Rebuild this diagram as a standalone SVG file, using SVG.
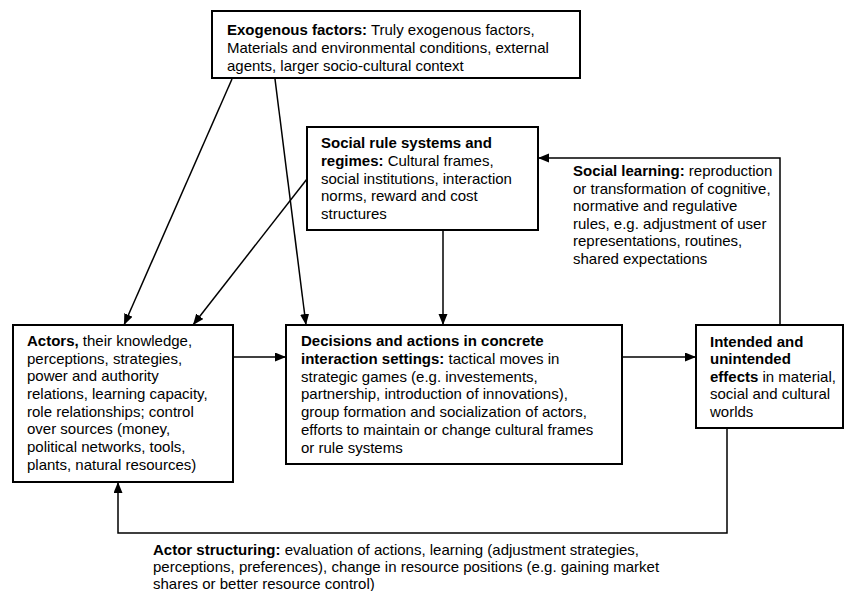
<svg xmlns="http://www.w3.org/2000/svg" width="844" height="591" viewBox="0 0 844 591">
  <style>
    .box { fill: #fff; stroke: #000; stroke-width: 2; }
    .txt { font-family: "Liberation Sans", Arial, sans-serif; font-size: 15px; fill: #000; }
    .b { font-weight: bold; }
    .edge { fill: none; stroke: #000; stroke-width: 1.5; marker-end: url(#arrow); }
  </style>
  <defs>
    <marker id="arrow" markerUnits="userSpaceOnUse" markerWidth="12" markerHeight="10" refX="11" refY="4.5" orient="auto">
      <path d="M0,0 L11,4.5 L0,9 z" fill="#000"/>
    </marker>
  </defs>

  <rect width="844" height="591" fill="#fff"/>

  <!-- connectors -->
  <g id="connectors">
    <path class="edge" d="M232,79 L124,325"/>
    <path class="edge" d="M275,79 L306,325"/>
    <path class="edge" d="M307,179 L193,325"/>
    <path class="edge" d="M443,230 V325"/>
    <path class="edge" d="M233,357 H286"/>
    <path class="edge" d="M622,357 H696"/>
    <path class="edge" d="M780,325 V158 H538"/>
    <path class="edge" d="M727,428 V533 H118 V482"/>
  </g>

  <g id="exogenous">
    <rect class="box" x="212" y="11" width="368" height="67"/>
    <text class="txt" x="227" y="35">
      <tspan class="b">Exogenous factors:</tspan> Truly exogenous factors,
      <tspan x="227" y="53">Materials and environmental conditions, external</tspan>
      <tspan x="227" y="70.5">agents, larger socio-cultural context</tspan>
    </text>
  </g>

  <g id="rules">
    <rect class="box" x="307" y="127" width="231" height="103"/>
    <text class="txt" x="321" y="148">
      <tspan class="b">Social rule systems and</tspan>
      <tspan x="321" y="166"><tspan class="b">regimes:</tspan> Cultural frames,</tspan>
      <tspan x="321" y="183.5">social institutions, interaction</tspan>
      <tspan x="321" y="201">norms, reward and cost</tspan>
      <tspan x="321" y="218.5">structures</tspan>
    </text>
  </g>

  <g id="social-learning">
    <text class="txt" x="573" y="176">
      <tspan class="b">Social learning:</tspan> reproduction
      <tspan x="573" y="193.5">or transformation of cognitive,</tspan>
      <tspan x="573" y="211">normative and regulative</tspan>
      <tspan x="573" y="228.5">rules, e.g. adjustment of user</tspan>
      <tspan x="573" y="246">representations, routines,</tspan>
      <tspan x="573" y="263.5">shared expectations</tspan>
    </text>
  </g>

  <g id="actors">
    <rect class="box" x="13" y="325" width="220" height="157"/>
    <text class="txt" x="27" y="346">
      <tspan class="b">Actors,</tspan> their knowledge,
      <tspan x="27" y="363.5">perceptions, strategies,</tspan>
      <tspan x="27" y="381.2">power and authority</tspan>
      <tspan x="27" y="398.9">relations, learning capacity,</tspan>
      <tspan x="27" y="416.6">role relationships; control</tspan>
      <tspan x="27" y="434.3">over sources (money,</tspan>
      <tspan x="27" y="452">political networks, tools,</tspan>
      <tspan x="27" y="469.7">plants, natural resources)</tspan>
    </text>
  </g>

  <g id="decisions">
    <rect class="box" x="286" y="325" width="336" height="139"/>
    <text class="txt" x="301" y="346">
      <tspan class="b">Decisions and actions in concrete</tspan>
      <tspan x="301" y="363.8"><tspan class="b">interaction settings:</tspan> tactical moves in</tspan>
      <tspan x="301" y="381.6">strategic games (e.g. investements,</tspan>
      <tspan x="301" y="399.4">partnership, introduction of innovations),</tspan>
      <tspan x="301" y="417.2">group formation and socialization of actors,</tspan>
      <tspan x="301" y="435">efforts to maintain or change cultural frames</tspan>
      <tspan x="301" y="452.8">or rule systems</tspan>
    </text>
  </g>

  <g id="effects">
    <rect class="box" x="696" y="325" width="147" height="103"/>
    <text class="txt" x="710" y="346.5">
      <tspan class="b">Intended and</tspan>
      <tspan x="710" y="364" class="b">unintended</tspan>
      <tspan x="710" y="381.5"><tspan class="b">effects</tspan> in material,</tspan>
      <tspan x="710" y="399">social and cultural</tspan>
      <tspan x="710" y="416.5">worlds</tspan>
    </text>
  </g>

  <g id="actor-structuring">
    <text class="txt" x="153" y="555">
      <tspan class="b">Actor structuring:</tspan> evaluation of actions, learning (adjustment strategies,
      <tspan x="153" y="572">perceptions, preferences), change in resource positions (e.g. gaining market</tspan>
      <tspan x="153" y="589">shares or better resource control)</tspan>
    </text>
  </g>
</svg>
